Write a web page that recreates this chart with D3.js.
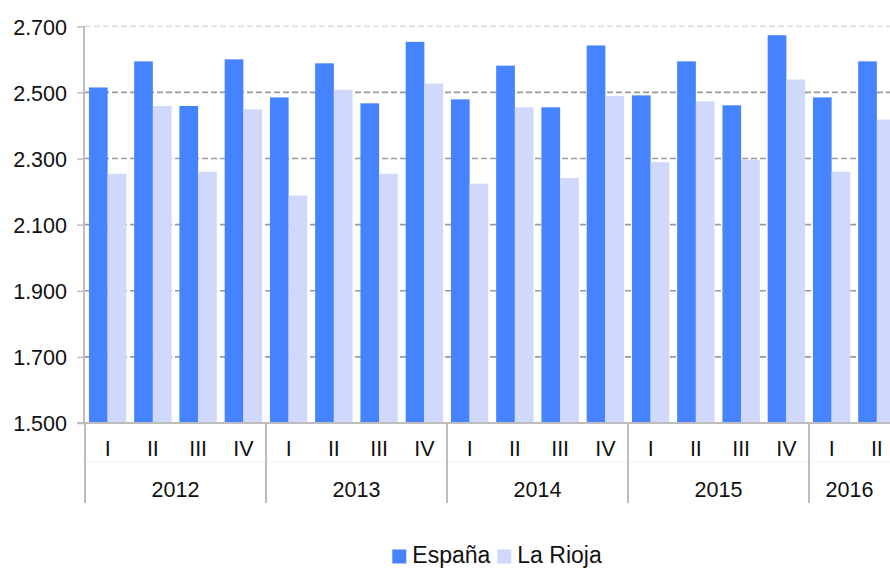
<!DOCTYPE html>
<html>
<head>
<meta charset="utf-8">
<script src="https://cdn.jsdelivr.net/npm/d3@7"></script>
<style>
  html, body { margin: 0; padding: 0; background: #fff; }
  svg { display: block; font-family: "Liberation Sans", Arial, Helvetica, sans-serif; }
</style>
</head>
<body>
<svg id="chart" width="890" height="568"></svg>
<script>
const years = ["2012", "2013", "2014", "2015", "2016"];
const quarters = ["I", "II", "III", "IV"];
const categories = [
  ["2012","I"],["2012","II"],["2012","III"],["2012","IV"],
  ["2013","I"],["2013","II"],["2013","III"],["2013","IV"],
  ["2014","I"],["2014","II"],["2014","III"],["2014","IV"],
  ["2015","I"],["2015","II"],["2015","III"],["2015","IV"],
  ["2016","I"],["2016","II"]
];
const espana = [2515, 2594, 2459, 2600, 2485, 2588, 2467, 2653, 2479, 2581, 2455, 2642, 2491, 2594, 2461, 2673, 2485, 2594];
const rioja  = [2254, 2459, 2260, 2449, 2188, 2508, 2254, 2527, 2224, 2455, 2241, 2489, 2289, 2473, 2297, 2539, 2260, 2418];
const seriesNames = ["España", "La Rioja"];
const colors = ["#4583FF", "#D0D9FC"];
const yTicks = [1500, 1700, 1900, 2100, 2300, 2500, 2700];

const svg = d3.select("#chart");
const W = 890, H = 568;
const mLeft = 84, mTop = 26.3, mBottom = 423;
const quarterW = 45.25;
const keys = categories.map(d => d[0] + "-" + d[1]);

const x = d3.scaleBand().domain(keys).range([mLeft + 1, mLeft + 1 + quarterW * keys.length]).paddingInner(0).paddingOuter(0);
const inner = d3.scaleBand().domain([0, 1]).range([0, x.bandwidth()]).paddingInner(0).paddingOuter(0.21);
const y = d3.scaleLinear().domain([1500, 2700]).range([mBottom, mTop]);

const loc = d3.formatLocale({decimal: ",", thousands: ".", grouping: [3], currency: ["", "€"]});
const fmt = loc.format(",d");
const FS = 21.5;

// gridlines
svg.append("g").selectAll("line").data(yTicks.filter(t => t > 1500)).join("line")
  .attr("x1", mLeft + 1).attr("x2", W)
  .attr("y1", d => y(d)).attr("y2", d => y(d))
  .attr("stroke", d => d === 2700 ? "#e2e2e2" : "#9a9a9a")
  .attr("stroke-width", d => d === 2700 ? 2 : 1.6)
  .attr("stroke-dasharray", "6,3");

// bars
const groups = svg.append("g").selectAll("g").data(keys).join("g")
  .attr("transform", d => `translate(${x(d)},0)`);
groups.selectAll("rect").data((d, i) => [espana[i], rioja[i]]).join("rect")
  .attr("x", (d, j) => inner(j))
  .attr("width", inner.bandwidth())
  .attr("y", d => y(d))
  .attr("height", d => mBottom - y(d))
  .attr("fill", (d, j) => colors[j]);

// y axis
const yAxis = d3.axisLeft(y).tickValues(yTicks).tickFormat(fmt).tickSize(7).tickPadding(10);
const ya = svg.append("g").attr("transform", `translate(${mLeft},0)`).call(yAxis);
ya.select(".domain").attr("stroke", "#bdbdbd").attr("stroke-width", 2).attr("d", `M0,${mTop}V${mBottom}`);
ya.selectAll(".tick line").attr("stroke", "#bdbdbd").attr("stroke-width", 1.5);
ya.selectAll(".tick text").attr("font-size", FS).attr("fill", "#111")
  .attr("font-family", "'Liberation Sans', Arial, sans-serif").attr("dy", "0.36em");

// x axis baseline
svg.append("line").attr("x1", mLeft - 7).attr("x2", W).attr("y1", mBottom).attr("y2", mBottom)
  .attr("stroke", "#bdbdbd").attr("stroke-width", 2);
// faint row divider
svg.append("line").attr("x1", mLeft + 1).attr("x2", W).attr("y1", 462).attr("y2", 462)
  .attr("stroke", "#f3f3f3").attr("stroke-width", 1);

// quarter labels
svg.append("g").selectAll("text").data(categories).join("text")
  .attr("x", (d, i) => x(keys[i]) + x.bandwidth() / 2)
  .attr("y", 456)
  .attr("text-anchor", "middle")
  .attr("font-size", FS).attr("fill", "#111")
  .text(d => d[1]);

// year separators and labels
const yearStart = yr => x(keys[categories.findIndex(c => c[0] === yr)]);
const yearEnd = yr => {
  const idx = categories.map(c => c[0]).lastIndexOf(yr);
  return x(keys[idx]) + x.bandwidth();
};
const seps = years.map(yearStart);
svg.append("g").selectAll("line").data(seps).join("line")
  .attr("x1", d => d).attr("x2", d => d)
  .attr("y1", mBottom).attr("y2", 503)
  .attr("stroke", "#bdbdbd").attr("stroke-width", 2);
svg.append("g").selectAll("text").data(years).join("text")
  .attr("x", yr => {
    const s = yearStart(yr), e = Math.min(yearEnd(yr), W);
    return (s + e) / 2;
  })
  .attr("y", 497)
  .attr("text-anchor", "middle")
  .attr("font-size", FS).attr("fill", "#111")
  .text(d => d);

// legend
const lg = svg.append("g");
let cx = 0;
seriesNames.forEach((name, i) => {
  const g = lg.append("g").attr("transform", `translate(${cx},0)`);
  g.append("rect").attr("x", 0).attr("y", -13).attr("width", 14).attr("height", 14).attr("fill", colors[i]);
  const t = g.append("text").attr("x", 20).attr("y", 0).attr("font-size", 23).attr("fill", "#111").text(name);
  const w = t.node().getComputedTextLength();
  cx += 20 + w + 7;
});
const totalW = cx - 7;
lg.attr("transform", `translate(${497 - totalW / 2},562.5)`);
</script>
</body>
</html>
